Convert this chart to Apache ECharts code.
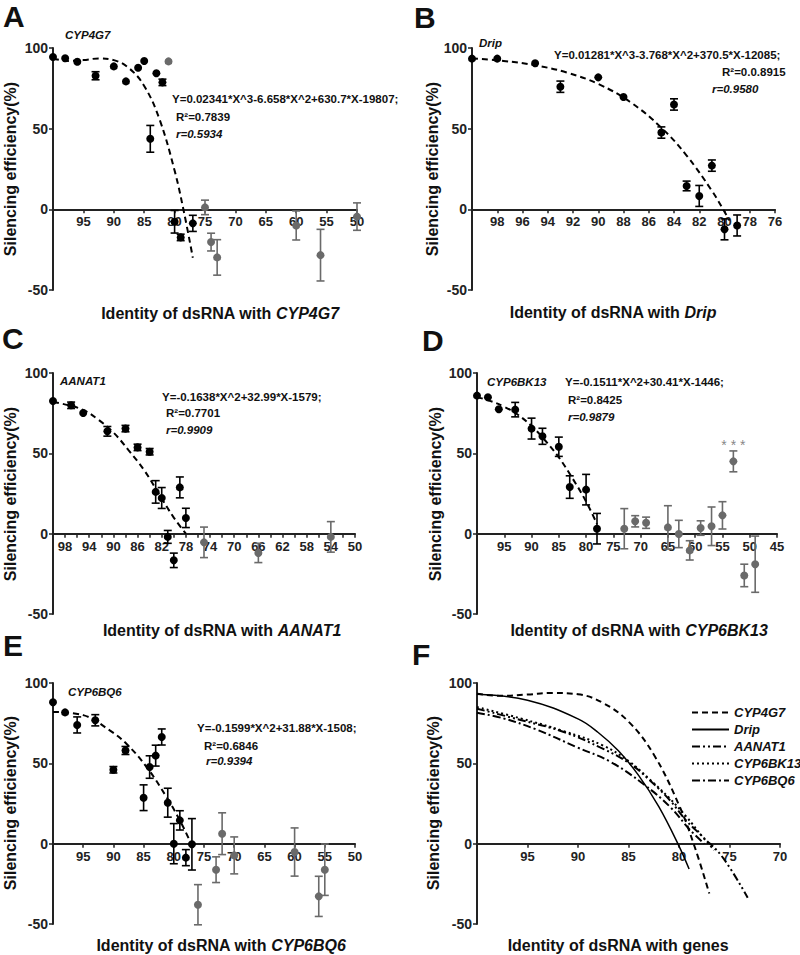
<!DOCTYPE html>
<html lang="en">
<head>
<meta charset="UTF-8">
<title>Silencing efficiency vs dsRNA identity</title>
<script src="https://cdn.jsdelivr.net/npm/echarts@6/dist/echarts.min.js"></script>
<style>
    html, body { margin: 0; padding: 0; background: #fff; }
    #chart { width: 800px; height: 955px; }
</style>
</head>
<body>
<div id="chart"></div>
<script>
    // points are [identity %, silencing efficiency %, error]
    const aBlack = [[100, 94.4, 0], [98, 93.6, 0], [96, 91.5, 0], [93, 82.8, 2.5], [90, 88.6, 0], [88, 79.3, 0],
        [86, 87.8, 0], [85, 91.9, 0], [84, 43.7, 8.3], [83, 84.3, 0], [82, 78.7, 2], [80, -7.7, 7], [79, -17.4, 2], [77, -8.7, 5]];
    const aGray = [[81, 91.7, 0], [75, 1.2, 4.5], [74, -20.3, 5.5], [73, -29.8, 11], [60, -10, 9], [56, -28.4, 16], [50, -4.5, 8.5]];
    const aFit = [[100, 93.5], [97.5, 92], [95, 92.5], [92.5, 93.5], [90, 92.5], [87.5, 87.5], [85, 76.5], [82.5, 56],
        [80, 24], [78.5, -1], [77, -30]];

    const bBlack = [[100, 93.4, 0], [98, 93.4, 0], [95, 90.5, 0], [93, 76, 3.5], [90, 81.8, 0], [88, 69.6, 0], [85, 47.6, 3.5],
        [84, 65, 3.5], [83, 14.5, 3], [82, 8.3, 6.5], [81, 27.1, 3.5], [80, -12.4, 6.5], [79, -10, 6.5]];
    const bGray = [];
    const bFit = [[100, 93.5], [97.5, 92], [95, 89.3], [92.5, 84.8], [90, 77.7], [87.5, 66.7], [85, 50.6], [83, 33.3],
        [81, 11.5], [80, -1.5], [79.6, -7]];

    const cBlack = [[100, 82.6, 0], [97, 79.9, 2], [95, 75.1, 0], [91, 63.7, 3], [88, 65.4, 2], [86, 53.7, 2], [84, 51, 2],
        [83, 26, 7], [82, 22.2, 6.5], [81, -2, 4], [80, -16.6, 4.5], [79, 28.8, 6.5], [78, 9.8, 6]];
    const cGray = [[75, -5.4, 9.5], [66, -12, 6], [54, -2, 9.5]];
    const cFit = [[100, 82], [97.5, 80], [95, 77], [92.5, 71], [90, 63], [87.5, 52], [85, 40], [82.5, 25], [80, 10], [78, 0]];

    const dBlack = [[100, 85.9, 0], [98, 84.9, 0], [96, 77.4, 0], [93, 77.2, 4.5], [90, 65.4, 6.5], [88, 60.6, 5],
        [85, 54.1, 6], [83, 29, 7], [80, 27.4, 9.5], [78, 3.1, 9.5]];
    const dGray = [[73, 3.1, 12.5], [71, 7.7, 3.5], [69, 6.8, 3.5], [65, 3.9, 13.5], [63, -0.2, 8.5], [61, -10.4, 6],
        [59, 3.5, 4.5], [57, 4.6, 12], [55, 11.4, 8.5], [53, 45, 6.5], [51, -26, 7], [49, -19, 17.5]];
    const dFit = [[100, 85], [97.5, 82.5], [95, 79], [92.5, 74], [90, 67], [87.5, 58], [85, 47.5], [82.5, 34.5], [80, 20], [78, 6]];
    const dStar = [[53, 55]];

    const eBlack = [[100, 88, 0], [98, 81.7, 0], [96, 73.9, 5], [93, 76.8, 3.5], [90, 46, 2], [88, 58, 2.5], [85, 28.6, 8],
        [84, 47.7, 7], [83, 54.8, 6.5], [82, 66.4, 5], [81, 25.5, 9], [80, 0, 12.5], [79, 14.5, 6], [78, -8.7, 5], [77, -0.4, 16]];
    const eGray = [[76, -38, 12.5], [73, -16.2, 8], [72, 6.2, 13], [70, -7.3, 11.5], [60, -5.2, 15], [56, -32.8, 12.5], [55, -16.2, 16]];
    const eFit = [[100, 82], [95, 80], [90.6, 70.5], [87.8, 62], [84.5, 47.7], [81.2, 29], [79, 14.5], [77.5, 3]];

    // panel F: all five fitted curves
    const fGenes = ['CYP4G7', 'Drip', 'AANAT1', 'CYP6BK13', 'CYP6BQ6'];
    const fCyp4g7 = [[100, 93.3], [97.5, 92], [95, 92.8], [92.5, 93.8], [90, 93], [87.5, 87.5], [85, 76], [82.5, 55.5],
        [80, 24], [78.5, -1], [77, -31]];
    const fDrip = [[100, 93], [95, 89.3], [90, 77.7], [88, 69.2], [86, 57.8], [84, 42.5], [82, 23], [80, -1.5], [79, -15.8]];
    const fAanat1 = [[100, 84], [95.7, 77], [91.4, 69.5], [87.5, 59], [84.9, 50], [82.9, 39.5], [80.9, 27], [79.3, 14.5],
        [77.6, 4], [75.7, -8.3], [73.2, -33.6]];
    const fCyp6bk13 = [[100, 85], [95.7, 78], [91.4, 70], [87.5, 61], [84.9, 51], [82.9, 40], [80.9, 28], [79.3, 17],
        [77.5, 3], [76.5, -4]];
    const fCyp6bq6 = [[100, 81.5], [97.4, 78], [94.1, 71], [90.1, 60], [86.8, 51], [83.5, 37], [80.9, 23], [78.9, 8.5], [77.5, 0]];

    const FONT = 'Arial, "Liberation Sans", sans-serif';
    const BLACK = '#000';
    const GRAY = '#6a6a6a';

    const panels = [
        {gene: 'CYP4G7', black: aBlack, gray: aGray, fit: aFit, min: 50, step: 5, left: 53, top: 48, width: 304, height: 242},
        {gene: 'Drip', black: bBlack, gray: bGray, fit: bFit, min: 76, step: 2, left: 472, top: 48, width: 303, height: 242},
        {gene: 'AANAT1', black: cBlack, gray: cGray, fit: cFit, min: 50, step: 2, left: 53, top: 373, width: 302, height: 241, every4: true},
        {gene: 'CYP6BK13', black: dBlack, gray: dGray, fit: dFit, min: 45, step: 5, left: 477, top: 373, width: 300, height: 241},
        {gene: 'CYP6BQ6', black: eBlack, gray: eGray, fit: eFit, min: 50, step: 5, left: 53, top: 683, width: 302, height: 241},
        {gene: 'genes', min: 70, step: 5, left: 477, top: 683, width: 303, height: 241}
    ];

    function errorBar(params, api) {
        const x = api.value(0), y = api.value(1), e = api.value(2);
        if (!e) return {type: 'group', children: []};
        const hi = api.coord([x, y + e]);
        const lo = api.coord([x, y - e]);
        const style = {stroke: api.visual('color'), lineWidth: 1.6};
        return {
            type: 'group',
            children: [
                {type: 'line', shape: {x1: hi[0], y1: hi[1], x2: lo[0], y2: lo[1]}, style: style},
                {type: 'line', shape: {x1: hi[0] - 4, y1: hi[1], x2: hi[0] + 4, y2: hi[1]}, style: style},
                {type: 'line', shape: {x1: lo[0] - 4, y1: lo[1], x2: lo[0] + 4, y2: lo[1]}, style: style}
            ]
        };
    }

    const grid = [], xAxis = [], yAxis = [], series = [];

    panels.forEach(function (p, i) {
        grid.push({left: p.left, top: p.top, width: p.width, height: p.height, outerBoundsMode: 'none'});
        // y runs -50..100, so the x axis sits a third of the way up the grid (at y = 0)
        xAxis.push({
            type: 'value', gridIndex: i, min: p.min, max: 100, interval: p.step, inverse: true,
            position: 'bottom', offset: -p.height / 3,
            axisLine: {onZero: false, lineStyle: {color: '#222', width: 2}},
            axisTick: {length: 4, lineStyle: {color: '#222', width: 1.5}},
            axisLabel: {
                color: '#222', fontFamily: FONT, fontWeight: 'bold', fontSize: 13, margin: 6,
                formatter: function (v) {
                    if (v === 100) return '';
                    if (p.every4 && (98 - v) % 4 !== 0) return '';
                    return v;
                }
            },
            splitLine: {show: false}
        });
        yAxis.push({
            type: 'value', gridIndex: i, min: -50, max: 100, interval: 50,
            axisLine: {show: true, onZero: false, lineStyle: {color: '#222', width: 2}},
            axisTick: {show: true, length: 4, lineStyle: {color: '#222', width: 1.5}},
            axisLabel: {color: '#222', fontFamily: FONT, fontWeight: 'bold', fontSize: 14, margin: 5},
            splitLine: {show: false}
        });
        if (!p.fit) return;
        [[p.gray, GRAY], [p.black, BLACK]].forEach(function (g) {
            series.push({
                type: 'custom', xAxisIndex: i, yAxisIndex: i, data: g[0], renderItem: errorBar,
                itemStyle: {color: g[1]}, clip: false, z: 2, silent: true
            });
            series.push({
                type: 'scatter', xAxisIndex: i, yAxisIndex: i, data: g[0], symbolSize: 8,
                itemStyle: {color: g[1], opacity: 1}, z: 3, silent: true
            });
        });
        series.push({
            type: 'line', xAxisIndex: i, yAxisIndex: i, data: p.fit, smooth: 0.4, symbol: 'none',
            lineStyle: {color: BLACK, width: 2, type: [6, 4]}, z: 4, silent: true
        });
    });

    series.push({
        type: 'scatter', xAxisIndex: 3, yAxisIndex: 3, data: dStar, symbolSize: 1,
        itemStyle: {color: 'transparent'}, silent: true,
        label: {show: true, formatter: '* * *', color: '#666', fontFamily: FONT, fontSize: 14, position: 'inside'}
    });

    const fCurves = [fCyp4g7, fDrip, fAanat1, fCyp6bk13, fCyp6bq6];
    const fDash = [[6, 4], 'solid', [8, 3, 2, 3, 2, 3], [2, 3], [8, 3, 2, 3]];
    fCurves.forEach(function (d, k) {
        series.push({
            name: fGenes[k], type: 'line', xAxisIndex: 5, yAxisIndex: 5, data: d, smooth: 0.4, symbol: 'none',
            itemStyle: {color: BLACK}, lineStyle: {color: BLACK, width: fDash[k] === 'solid' ? 1.5 : 2, type: fDash[k]},
            silent: true
        });
    });

    // texts
    const graphic = [];
    function txt(x, y, text, font, opts) {
        graphic.push(Object.assign({
            type: 'text', x: x, y: y, silent: true,
            style: {text: text, font: font, fill: '#111', textAlign: 'left', textVerticalAlign: 'middle'}
        }, opts || {}));
    }
    const bold = 'bold 11.5px ' + FONT;
    const boldIt = 'italic bold 11.5px ' + FONT;

    [['A', 3, 16], ['B', 414, 17], ['C', 2, 338], ['D', 422, 340], ['E', 3, 645], ['F', 412, 654]].forEach(function (l) {
        txt(l[1], l[2], l[0], 'bold 30px ' + FONT);
    });

    const titles = [[10, 169, 220, 313], [432, 169, 613, 312], [10, 494, 222, 630],
        [435, 494, 639, 630], [10, 803, 221, 945], [433, 803, 618, 945]];
    panels.forEach(function (p, i) {
        const t = titles[i];
        graphic.push({
            type: 'text', x: t[0], y: t[1], rotation: Math.PI / 2, silent: true,
            style: {text: 'Silencing efficiency(%)', font: 'bold 16px ' + FONT, fill: '#111',
                textAlign: 'center', textVerticalAlign: 'middle'}
        });
        graphic.push({
            type: 'text', x: t[2], y: t[3], silent: true,
            style: {
                text: '{n|Identity of dsRNA with }' + (i === 5 ? '{n|genes}' : '{g|' + p.gene + '}'),
                fill: '#111', textAlign: 'center', textVerticalAlign: 'middle',
                rich: {
                    n: {fontFamily: FONT, fontWeight: 'bold', fontSize: 16, fill: '#111'},
                    g: {fontFamily: FONT, fontWeight: 'bold', fontStyle: 'italic', fontSize: 16, fill: '#111'}
                }
            }
        });
    });

    txt(65, 35, 'CYP4G7', boldIt);
    txt(172, 99, 'Y=0.02341*X^3-6.658*X^2+630.7*X-19807;', bold);
    txt(176, 117, 'R²=0.7839', bold);
    txt(176, 134, 'r=0.5934', boldIt);

    txt(479, 43, 'Drip', boldIt);
    txt(554, 55, 'Y=0.01281*X^3-3.768*X^2+370.5*X-12085;', bold);
    txt(722, 72, 'R²=0.0.8915', bold);
    txt(712, 89, 'r=0.9580', boldIt);

    txt(60, 381, 'AANAT1', boldIt);
    txt(162, 397, 'Y=-0.1638*X^2+32.99*X-1579;', bold);
    txt(166, 413, 'R²=0.7701', bold);
    txt(166, 430, 'r=0.9909', boldIt);

    txt(487, 382, 'CYP6BK13', boldIt);
    txt(565, 382, 'Y=-0.1511*X^2+30.41*X-1446;', bold);
    txt(568, 400, 'R²=0.8425', bold);
    txt(568, 417, 'r=0.9879', boldIt);

    txt(68, 692, 'CYP6BQ6', boldIt);
    txt(197, 728, 'Y=-0.1599*X^2+31.88*X-1508;', bold);
    txt(204, 746, 'R²=0.6846', bold);
    txt(206, 761, 'r=0.9394', boldIt);

    const chart = echarts.init(document.getElementById('chart'), null, {renderer: 'svg'});
    chart.setOption({
        animation: false,
        backgroundColor: '#fff',
        grid: grid,
        xAxis: xAxis,
        yAxis: yAxis,
        legend: {
            data: fGenes, orient: 'vertical', left: 686, top: 701,
            itemWidth: 37, itemHeight: 14, itemGap: 4,
            itemStyle: {opacity: 0},
            textStyle: {fontFamily: FONT, fontWeight: 'bold', fontStyle: 'italic', fontSize: 13, color: '#111'},
            selectedMode: false
        },
        series: series,
        graphic: graphic
    });
</script>
</body>
</html>
